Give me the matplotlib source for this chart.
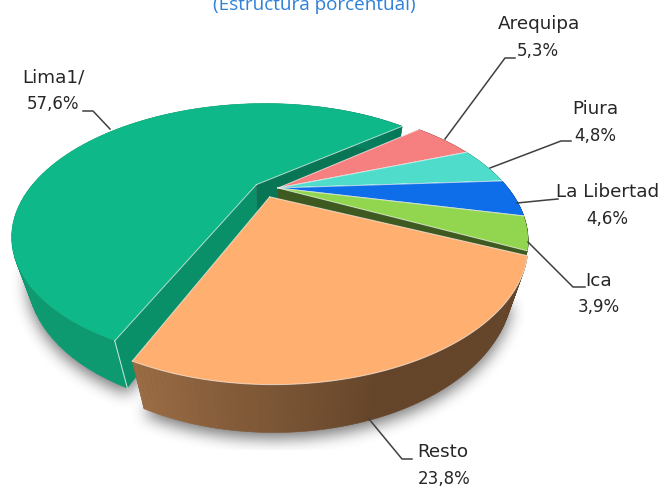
import numpy as np
from matplotlib import pyplot as plt
from matplotlib.colors import to_rgb
from matplotlib.path import Path

regiones = ["Arequipa", "Piura", "La Libertad", "Ica", "Resto", "Lima1/"]
valores = [5.3, 4.8, 4.6, 3.9, 23.8, 57.6]
etiquetas = ["5,3%", "4,8%", "4,6%", "3,9%", "23,8%", "57,6%"]
titulo = "(Estructura porcentual)"

colores = ["#f67f7f", "#4fdccb", "#0e6de8", "#92d650", "#ffb070", "#0fb888"]
cara = ["#a85050", "#2f9488", "#0a4a9e", "#4d6e27", "#5c3f26", "#0a9068"]
muro = [("#a85050", "#a85050"), ("#2f9488", "#2f9488"), ("#0a4a9e", "#0a4a9e"),
        ("#3f5a20", "#3f5a20"), ("#9a6c44", "#65452a"), ("#0d9a70", "#04785a")]
# desplazamiento de cada porcion sobre el plano del pastel
despl = [(0, 0), (0, 0), (0, 0), (0, 0), (-0.012, -0.028), (-0.08, 0.045)]
despl_apex = [(0, 0), (0, 0), (0, 0), (0, 0), (-0.035, -0.075), (-0.095, 0.03)]

# proyeccion en perspectiva del pastel (pixeles)
cx, cy, a, b, p, q, h = 278, 188, 230, 114, 0.393, 0.055, 42
inicio = 40.0


def proy(u, v, z=0):
    w = 1 + p * v + q * z
    return cx + a * u / w, cy - (b * v - h * z) / w


def borde(t0, t1, off, z=0, n=120):
    t = np.radians(np.linspace(t0, t1, n))
    return proy(np.cos(t) + off[0], np.sin(t) + off[1], z)


def mezcla(c0, c1, f):
    return tuple((1 - f) * np.array(to_rgb(c0)) + f * np.array(to_rgb(c1)))


fig = plt.figure(figsize=(6.62, 4.86), dpi=100)
ax = fig.add_axes([0, 0, 1, 1])
ax.set_xlim(0, 662)
ax.set_ylim(486, 0)
ax.axis("off")

lim = inicio - np.cumsum([0] + valores) * 3.6
porciones = [(lim[i], lim[i + 1]) for i in range(len(valores))]

# sombra difusa bajo el pastel
gx, gy = np.meshgrid(np.arange(662) + 0.5, np.arange(486) + 0.5)
pts = np.c_[gx.ravel(), gy.ravel()]
masc = np.zeros(gx.shape)
for i in [4, 5]:
    t0, t1 = porciones[i]
    x, y = borde(t0, t1, despl[i], 1)
    ap = proy(despl_apex[i][0], despl_apex[i][1], 1)
    dentro = Path(np.c_[np.r_[ap[0], x], np.r_[ap[1], y] + 6]).contains_points(pts)
    masc = np.maximum(masc, dentro.reshape(gx.shape).astype(float))
nucleo = np.ones(15) / 15
for _ in range(3):
    masc = np.apply_along_axis(lambda f: np.convolve(f, nucleo, mode="same"), 0, masc)
    masc = np.apply_along_axis(lambda f: np.convolve(f, nucleo, mode="same"), 1, masc)
masc[450:, :] = 0
rgba = np.zeros(gx.shape + (4,))
rgba[..., 3] = masc * 0.55
ax.imshow(rgba, extent=(0, 662, 486, 0), aspect="auto", zorder=1, interpolation="bilinear")
ax.set_xlim(0, 662)
ax.set_ylim(486, 0)


def dibuja(i, zo):
    t0, t1 = porciones[i]
    off = despl[i]
    apex = proy(despl_apex[i][0], despl_apex[i][1])
    apex_b = proy(despl_apex[i][0], despl_apex[i][1], 1)
    # caras de corte
    for t in (t0, t1):
        xr, yr = borde(t, t, off, 0, 2)
        xb, yb = borde(t, t, off, 1, 2)
        col = cara[i] if t == t0 else mezcla(cara[i], "k", 0.18)
        ax.fill([apex[0], xr[0], xb[0], apex_b[0]], [apex[1], yr[0], yb[0], apex_b[1]],
                color=col, lw=0, zorder=zo)
    # muro exterior con degradado
    ts = np.linspace(t1, t0, 90)
    for j in range(len(ts) - 1):
        xa, ya = borde(ts[j], ts[j + 1], off, 0, 2)
        xc, yc = borde(ts[j], ts[j + 1], off, 1, 2)
        col = mezcla(muro[i][0], muro[i][1], min(1, j / 40))
        if i == 5:
            # Lima: lo oscuro queda junto al corte frontal
            col = mezcla(muro[i][0], muro[i][1], 1 - min(1, j / 22))
        ax.fill([xa[0], xa[1], xc[1], xc[0]], [ya[0], ya[1], yc[1], yc[0]],
                color=col, ec=col, lw=0.4, zorder=zo)
    # cara superior
    x, y = borde(t0, t1, off)
    ax.fill(np.r_[apex[0], x], np.r_[apex[1], y], color=colores[i], lw=0, zorder=zo + 0.1)
    # filetes claros
    for xx, yy in ((x[0], y[0]), (x[-1], y[-1])):
        ax.plot([apex[0], xx], [apex[1], yy], color="white", lw=0.7, alpha=0.65, zorder=zo + 0.2)
    if i == 4:
        ax.plot(x, y, color="white", lw=0.7, alpha=0.6, zorder=zo + 0.2)


dibuja(5, 2)
xr, yr = borde(porciones[5][0], porciones[5][0], despl[5], 0, 2)
xb, yb = borde(porciones[5][0], porciones[5][0], despl[5], 1, 2)
ax.plot([xr[0], xb[0]], [yr[0], yb[0]], color="white", lw=0.8, alpha=0.7, zorder=2.3)
for i in range(4):
    dibuja(i, 3 + i * 0.3)
dibuja(4, 5)

# lineas guia
guias = {
    "Arequipa": [(445, 139), (505, 58), (515, 58)],
    "Piura": [(490, 168), (561, 141), (571, 141)],
    "La Libertad": [(517, 203), (547, 200), (558, 199)],
    "Ica": [(528, 242), (573, 287), (585, 287)],
    "Resto": [(369, 419), (402, 459), (412, 459)],
    "Lima1/": [(110, 129), (93, 111), (83, 111)],
}
textos = {
    "Arequipa": (539, 24, 538, 51),
    "Piura": (595, 109, 595, 136),
    "La Libertad": (608, 192, 607, 219),
    "Ica": (599, 281, 599, 307),
    "Resto": (443, 452, 444, 479),
    "Lima1/": (53, 78, 53, 104),
}
for nombre, etq in zip(regiones, etiquetas):
    g = np.array(guias[nombre])
    ax.plot(g[:, 0], g[:, 1], color="#404040", lw=1.1, zorder=6)
    tx, ty, ex, ey = textos[nombre]
    ax.text(tx, ty, nombre, ha="center", va="center", fontsize=13.2, color="#262626", zorder=7)
    ax.text(ex, ey, etq, ha="center", va="center", fontsize=12, color="#262626", zorder=7)

ax.text(314, 5, titulo, ha="center", va="center", fontsize=13.6, color="#2f80d8",
        family="Open Sans", zorder=7)

fig.savefig("out.png", dpi=100)
